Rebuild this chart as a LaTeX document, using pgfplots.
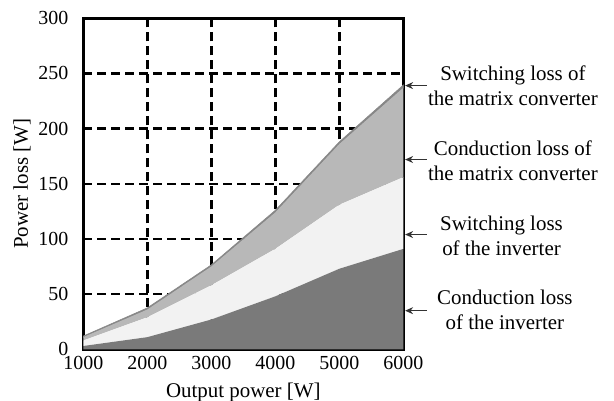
\documentclass[border=0pt]{standalone}
\usepackage{fontspec}
\setmainfont{Liberation Serif}
\usepackage{pgfplots}
\pgfplotsset{compat=1.18}
\usetikzlibrary{calc,arrows.meta}
\definecolor{condInv}{RGB}{122,122,122}
\definecolor{swInv}{RGB}{242,242,242}
\definecolor{condMc}{RGB}{184,184,184}
\definecolor{swMc}{RGB}{135,135,135}
% grid under the areas, ticks and frame over them
\pgfplotsset{layers/gridbelow/.define layer set={axis background,axis grid,main,axis ticks,axis lines,axis tick labels,axis descriptions,axis foreground}{}}
\tikzset{lbl/.style={align=center, font=\fontsize{10.5}{12.5}\selectfont},
  arr/.style={-{Stealth[length=4bp,width=3.5bp]}, line width=0.5bp, black!80}}

\begin{document}
\begin{tikzpicture}
\begin{axis}[name=ax, scale only axis, width=160bp, height=165.5bp,
  set layers=gridbelow,
  xmin=1000, xmax=6000, ymin=0, ymax=300,
  xtick={1000,2000,...,6000}, ytick={0,50,...,300},
  tick pos=left, tick align=inside, major tick length=3.3bp,
  every tick/.style={black, line width=1.3bp},
  axis line style={line width=1.6bp},
  grid=major, major grid style={black, line width=1.2bp, dash pattern=on 4.5bp off 2.5bp},
  stack plots=y, clip=false,
  scaled ticks=false, /pgf/number format/assume math mode=true, /pgf/number format/1000 sep={},
  tick label style={font=\fontsize{10}{12}\selectfont},
  yticklabel style={xshift=-4bp},
  label style={font=\fontsize{10.5}{12.5}\selectfont},
  ylabel style={yshift=-3bp},
  xlabel={Output power [W]}, ylabel={Power loss [W]},
]
% conduction loss of the inverter
\addplot[fill=condInv, draw=none] coordinates {(1000,3)(2000,11)(3000,27)(4000,48)(5000,73)(6000,91)} \closedcycle;
% switching loss of the inverter
\addplot[fill=swInv, draw=none] coordinates {(1000,5)(2000,18)(3000,31)(4000,43)(5000,58)(6000,65)} \closedcycle;
% conduction loss of the matrix converter
\addplot[fill=condMc, draw=none] coordinates {(1000,3)(2000,7)(3000,17)(4000,33)(5000,55)(6000,81)} \closedcycle;
% switching loss of the matrix converter
\addplot[fill=swMc, draw=swMc, line width=0.3bp] coordinates {(1000,1)(2000,1.5)(3000,1.5)(4000,2)(5000,2)(6000,2.5)} \closedcycle;

\draw[arr] ([xshift=11.8bp]axis cs:6000,239) -- ([xshift=0.9bp]axis cs:6000,239);
\draw[arr] ([xshift=11.8bp]axis cs:6000,172) -- ([xshift=0.9bp]axis cs:6000,172);
\draw[arr] ([xshift=11.8bp]axis cs:6000,104) -- ([xshift=0.9bp]axis cs:6000,104);
\draw[arr] ([xshift=11.8bp]axis cs:6000,35) -- ([xshift=0.9bp]axis cs:6000,35);
\node[lbl, xshift=54.8bp] at (axis cs:6000,239) {Switching loss of\\the matrix converter};
\node[lbl, xshift=54.8bp] at (axis cs:6000,171) {Conduction loss of\\the matrix converter};
\node[lbl, xshift=49.1bp] at (axis cs:6000,103) {Switching loss\\of the inverter};
\node[lbl, xshift=50.8bp] at (axis cs:6000,36) {Conduction loss\\of the inverter};
\end{axis}
\pgfresetboundingbox
\path[use as bounding box] ($(ax.south west)+(-41.65bp,-25.85bp)$) rectangle ($(ax.north east)+(105.35bp,9.15bp)$);
\end{tikzpicture}
\end{document}
